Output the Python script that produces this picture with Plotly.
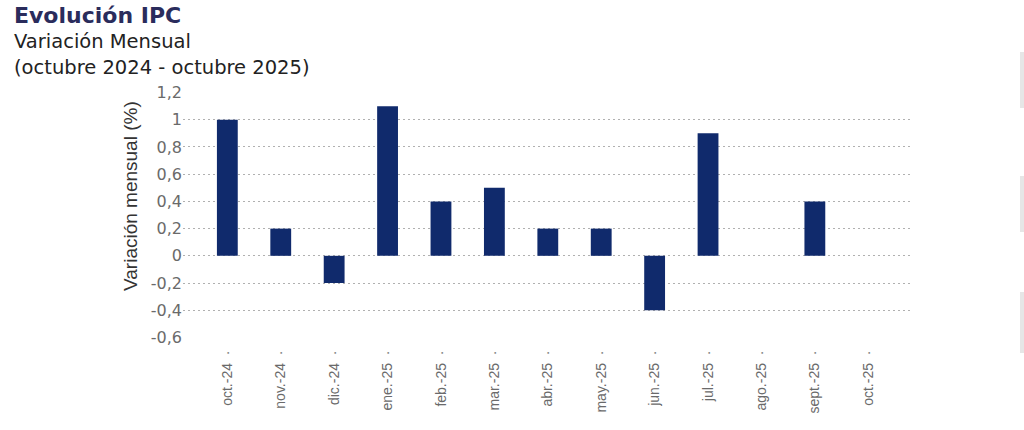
import plotly.graph_objects as go

categories = ["oct.-24", "nov.-24", "dic.-24", "ene.-25", "feb.-25", "mar.-25", "abr.-25",
              "may.-25", "jun.-25", "jul.-25", "ago.-25", "sept.-25", "oct.-25"]
values = [1.0, 0.2, -0.2, 1.1, 0.4, 0.5, 0.2, 0.2, -0.4, 0.9, 0.0, 0.4, None]
y_tickvals = [-0.6, -0.4, -0.2, 0, 0.2, 0.4, 0.6, 0.8, 1.0, 1.2]
y_ticktext = ["-0,6", "-0,4", "-0,2", "0", "0,2", "0,4", "0,6", "0,8", "1", "1,2"]
x_ticktext = [c + "  ·" for c in categories]

W, H = 1024, 430
SL, SR, ST, SB = 183, 911, 92, 338
ML, MT = SL, ST
MR = W - SR
MB = H - SB
PW, PH = SR - SL, SB - ST

def px_x(p):
    return (p - SL) / PW

def px_y(p):
    return (SB - p) / PH

fig = go.Figure()
fig.add_trace(go.Bar(
    x=list(range(len(categories))), y=values, width=0.39,
    marker=dict(color="#102a6c", line=dict(width=0)),
    hoverinfo="skip",
))

fig.update_layout(
    width=W, height=H,
    margin=dict(l=ML, r=MR, t=MT, b=MB),
    paper_bgcolor="white", plot_bgcolor="white",
    showlegend=False,
    font=dict(family="Liberation Sans", color="#666666"),
    xaxis=dict(
        range=[-0.83, 12.8],
        tickmode="array", tickvals=list(range(len(categories))), ticktext=x_ticktext,
        tickangle=-90, tickfont=dict(family="Liberation Sans", size=14, color="#6a6a6a"),
        showgrid=False, zeroline=False, showline=False,
        ticks="outside", ticklen=6, tickcolor="rgba(0,0,0,0)",
    ),
    yaxis=dict(
        range=[-0.604, 1.204],
        tickmode="array", tickvals=y_tickvals, ticktext=y_ticktext,
        tickfont=dict(family="DejaVu Sans", size=16, color="#6a6a6a"),
        showgrid=True, gridcolor="#b0b0b0", gridwidth=1, griddash="2px,3px",
        zeroline=False, showline=False, ticks="",
    ),
)

fig.add_annotation(text="<b>Evolución IPC</b>", xref="paper", yref="paper",
                   x=px_x(12), y=px_y(15), xanchor="left", yanchor="middle",
                   showarrow=False, font=dict(family="DejaVu Sans", size=22, color="#2a2c5c"))
fig.add_annotation(text="Variación Mensual", xref="paper", yref="paper",
                   x=px_x(12), y=px_y(41), xanchor="left", yanchor="middle",
                   showarrow=False, font=dict(family="DejaVu Sans", size=19.5, color="#222222"))
fig.add_annotation(text="(octubre 2024 - octubre 2025)", xref="paper", yref="paper",
                   x=px_x(12), y=px_y(67), xanchor="left", yanchor="middle",
                   showarrow=False, font=dict(family="DejaVu Sans", size=19.5, color="#222222"))
fig.add_annotation(text="Variación mensual (%)", xref="paper", yref="paper",
                   x=px_x(130), y=px_y(196), xanchor="center", yanchor="middle",
                   textangle=-90, showarrow=False,
                   font=dict(family="Liberation Sans", size=19, color="#333333"))

for y0, y1 in [(52, 108), (176, 232), (292, 353)]:
    fig.add_shape(type="rect", xref="paper", yref="paper",
                  x0=px_x(1020), x1=px_x(1024), y0=px_y(y1), y1=px_y(y0),
                  fillcolor="#e6e6e6", line=dict(width=0), layer="below")

fig.write_html("out.html", config={"displayModeBar": False},
               post_script="document.body.style.margin='0';document.body.style.padding='0';")
